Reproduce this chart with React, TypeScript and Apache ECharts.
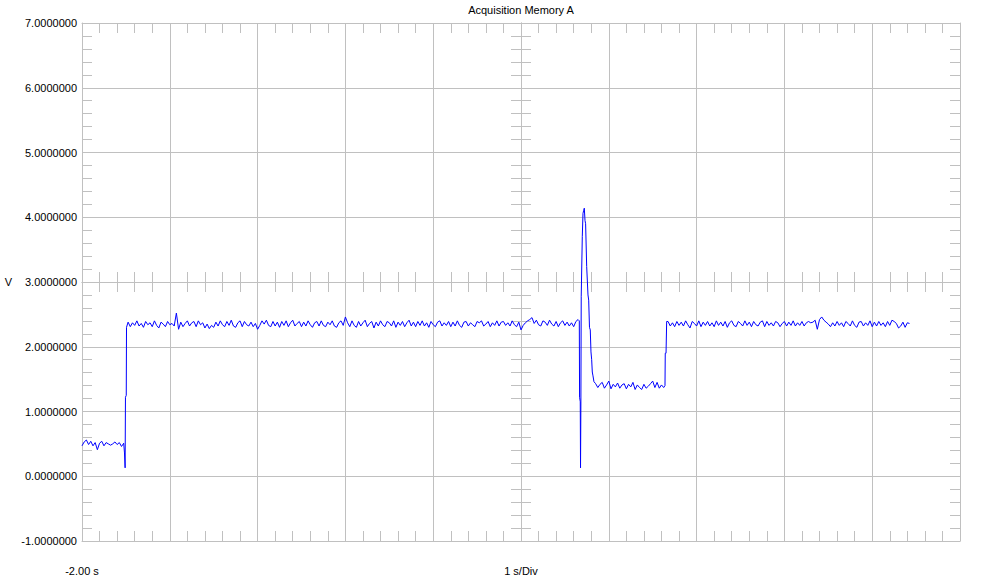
import React, { useEffect, useRef } from "react";
import * as echarts from "echarts";

// Time axis (seconds) and volt axis settings
const X_MIN = -2;
const X_MAX = 8;
const Y_MIN = -1;
const Y_MAX = 7;

const TITLE = "Acquisition Memory A";
const Y_NAME = "V";
const X_NAME = "1 s/Div";
const X_START_LABEL = "-2.00 s";

// Sample step of the noisy segments (s)
const STEP = 0.025;

// Segment A: low level before the first step
const segAStart = -2.0;
const segAValues = [0.47, 0.53, 0.56, 0.49, 0.54, 0.47, 0.52, 0.41, 0.51, 0.54, 0.47, 0.52, 0.5, 0.48, 0.5, 0.53, 0.49, 0.52, 0.46, 0.51];

// First step (glitch then rise)
const riseTimes = [-1.516, -1.509, -1.505, -1.496, -1.493];
const riseValues = [0.36, 0.13, 1.22, 1.25, 2.3];

// Segment B: high level
const segBStart = -1.475;
const segBValues = [
  2.38, 2.31, 2.37, 2.33, 2.4, 2.32, 2.36, 2.3, 2.39, 2.34,
  2.37, 2.31, 2.4, 2.33, 2.29, 2.38, 2.35, 2.31, 2.39, 2.34,
  2.36, 2.32, 2.52, 2.27, 2.38, 2.31, 2.36, 2.4, 2.32, 2.37,
  2.39, 2.31, 2.4, 2.34, 2.37, 2.29, 2.35, 2.28, 2.33, 2.3,
  2.38, 2.32, 2.4, 2.34, 2.31, 2.39, 2.33, 2.41, 2.32, 2.3,
  2.37, 2.4, 2.31, 2.39, 2.34, 2.32, 2.38, 2.31, 2.36, 2.27,
  2.33, 2.4, 2.35, 2.41, 2.33, 2.31, 2.39, 2.32, 2.38, 2.3,
  2.39, 2.33, 2.4, 2.31, 2.37, 2.41, 2.32, 2.36, 2.39, 2.31,
  2.38, 2.32, 2.4, 2.34, 2.3, 2.37, 2.39, 2.32, 2.4, 2.33,
  2.31, 2.38, 2.34, 2.4, 2.32, 2.3, 2.37, 2.4, 2.33, 2.46,
  2.37, 2.31, 2.4, 2.33, 2.3, 2.39, 2.32, 2.37, 2.41, 2.31,
  2.36, 2.39, 2.29, 2.38, 2.32, 2.4, 2.34, 2.31, 2.39, 2.37,
  2.32, 2.4, 2.3, 2.38, 2.33, 2.39, 2.31, 2.37, 2.41, 2.32,
  2.38, 2.31, 2.39, 2.33, 2.4, 2.32, 2.37, 2.3, 2.39, 2.34,
  2.31, 2.38, 2.4, 2.32, 2.37, 2.33, 2.39, 2.31, 2.38, 2.32,
  2.4, 2.33, 2.3, 2.38, 2.39, 2.32, 2.37, 2.34, 2.31, 2.39,
  2.37, 2.4, 2.32, 2.35, 2.39, 2.31, 2.37, 2.33, 2.4, 2.32,
  2.38, 2.39, 2.33, 2.37, 2.32, 2.4, 2.34, 2.31, 2.38, 2.26,
  2.33, 2.37, 2.4, 2.42, 2.45, 2.36, 2.41, 2.34, 2.32, 2.4,
  2.38, 2.33, 2.41, 2.35, 2.32, 2.39, 2.31, 2.37, 2.4, 2.33,
  2.38, 2.32, 2.37, 2.31, 2.39, 2.42,
];

// Transient spike
const spikeTimes = [3.664, 3.667, 3.675, 3.678, 3.682, 3.686, 3.698, 3.706, 3.713, 3.721, 3.729, 3.736, 3.748, 3.763, 3.771, 3.78, 3.789, 3.797, 3.805, 3.812, 3.82, 3.831];
const spikeValues = [2.4, 1.22, 1.15, 0.13, 1.1, 2.78, 3.7, 4.06, 4.1, 4.14, 3.95, 3.9, 3.24, 2.8, 2.72, 2.3, 2.26, 1.92, 1.8, 1.61, 1.55, 1.46];

// Segment C: middle level
const segCStart = 3.85;
const segCValues = [1.43, 1.37, 1.42, 1.45, 1.36, 1.41, 1.47, 1.35, 1.42, 1.38, 1.44, 1.36, 1.41, 1.43, 1.35, 1.42, 1.38, 1.45, 1.34, 1.41, 1.37, 1.34, 1.42, 1.36, 1.39, 1.43, 1.47, 1.37, 1.45, 1.36, 1.41, 1.37];

// Second rise
const rise2Times = [4.64, 4.643, 4.652, 4.659];
const rise2Values = [1.4, 1.9, 1.9, 2.39];

// Segment D: high level again
const segDStart = 4.675;
const segDValues = [
  2.39, 2.32, 2.37, 2.31, 2.39, 2.33, 2.38, 2.32, 2.4, 2.34,
  2.29, 2.39, 2.36, 2.32, 2.4, 2.31, 2.38, 2.33, 2.39, 2.32,
  2.37, 2.31, 2.4, 2.33, 2.38, 2.32, 2.39, 2.3, 2.37, 2.4,
  2.33, 2.31, 2.39, 2.36, 2.32, 2.4, 2.33, 2.38, 2.31, 2.39,
  2.34, 2.32, 2.38, 2.4, 2.31, 2.39, 2.33, 2.37, 2.32, 2.39,
  2.37, 2.31, 2.36, 2.39, 2.32, 2.38, 2.33, 2.4, 2.32, 2.37,
  2.33, 2.39, 2.32, 2.37, 2.39, 2.37, 2.38, 2.41, 2.27, 2.42,
  2.46, 2.41, 2.38, 2.35, 2.31, 2.37, 2.32, 2.39, 2.33, 2.37,
  2.31, 2.39, 2.36, 2.32, 2.4, 2.33, 2.3, 2.38, 2.39, 2.32,
  2.37, 2.33, 2.4, 2.31, 2.38, 2.32, 2.39, 2.33, 2.37, 2.31,
  2.39, 2.33, 2.41, 2.39, 2.36, 2.29, 2.32, 2.38, 2.3, 2.37, 2.36,
];

const sampled = (start: number, values: number[]) =>
  values.map((v, i) => [+(start + i * STEP).toFixed(4), v]);
const paired = (ts: number[], vs: number[]) => ts.map((t, i) => [t, vs[i]]);

const traceData = [
  ...sampled(segAStart, segAValues),
  ...paired(riseTimes, riseValues),
  ...sampled(segBStart, segBValues),
  ...paired(spikeTimes, spikeValues),
  ...sampled(segCStart, segCValues),
  ...paired(rise2Times, rise2Values),
  ...sampled(segDStart, segDValues),
];

const GRAY = "#c0c0c0";
const FONT = "'Liberation Sans', Arial, sans-serif";

export default function App() {
  const ref = useRef<HTMLDivElement>(null);
  useEffect(() => {
    if (!ref.current) return;
    const chart = echarts.init(ref.current, undefined, { renderer: "svg" });

    const line = { show: true, lineStyle: { color: GRAY, width: 1 } };
    const minor = { show: true, splitNumber: 5, length: 10, lineStyle: { color: GRAY, width: 1 } };
    const tick = (inside: boolean) => ({ show: true, inside, length: 10, lineStyle: { color: GRAY, width: 1 } });
    const baseX = { type: "value", min: X_MIN, max: X_MAX, interval: 1, gridIndex: 0 };
    const baseY = { type: "value", min: Y_MIN, max: Y_MAX, interval: 1, gridIndex: 0 };
    const off = { show: false };

    chart.setOption({
      animation: false,
      grid: { left: 82, top: 23, right: 26, bottom: 39, containLabel: false, outerBoundsMode: "none" },
      xAxis: [
        {
          ...baseX,
          position: "bottom",
          axisLine: { ...line, onZero: false },
          axisTick: tick(true),
          minorTick: minor,
          splitLine: line,
          axisLabel: {
            show: true,
            margin: 24,
            color: "#000",
            fontSize: 11,
            fontFamily: FONT,
            formatter: (v: number) => (v === X_MIN ? X_START_LABEL : ""),
          },
        },
        { ...baseX, position: "top", axisLine: { ...line, onZero: false }, axisTick: tick(true), minorTick: minor, splitLine: off, axisLabel: off },
        { ...baseX, position: "bottom", offset: -259, axisLine: { ...line, onZero: false }, axisTick: tick(true), minorTick: minor, splitLine: off, axisLabel: off },
        { ...baseX, position: "bottom", offset: -259, axisLine: { ...line, onZero: false }, axisTick: tick(false), minorTick: minor, splitLine: off, axisLabel: off },
      ],
      yAxis: [
        {
          ...baseY,
          position: "left",
          axisLine: { ...line, onZero: false },
          axisTick: tick(true),
          minorTick: minor,
          splitLine: line,
          axisLabel: {
            show: true,
            margin: 5,
            color: "#000",
            fontSize: 11,
            fontFamily: FONT,
            formatter: (v: number) => v.toFixed(7),
          },
        },
        { ...baseY, position: "right", axisLine: { ...line, onZero: false }, axisTick: tick(true), minorTick: minor, splitLine: off, axisLabel: off },
        { ...baseY, position: "left", offset: -439, axisLine: { ...line, onZero: false }, axisTick: tick(true), minorTick: minor, splitLine: off, axisLabel: off },
        { ...baseY, position: "left", offset: -439, axisLine: { ...line, onZero: false }, axisTick: tick(false), minorTick: minor, splitLine: off, axisLabel: off },
      ],
      graphic: [
        {
          type: "text",
          x: 521,
          y: 10,
          style: { text: TITLE, fill: "#000", font: `11px ${FONT}`, textAlign: "center", textVerticalAlign: "middle" },
        },
        {
          type: "text",
          x: 8.5,
          y: 282,
          style: { text: Y_NAME, fill: "#000", font: `11px ${FONT}`, textAlign: "center", textVerticalAlign: "middle" },
        },
        {
          type: "text",
          x: 521,
          y: 571,
          style: { text: X_NAME, fill: "#000", font: `11px ${FONT}`, textAlign: "center", textVerticalAlign: "middle" },
        },
      ],
      series: [
        {
          type: "line",
          xAxisIndex: 0,
          yAxisIndex: 0,
          data: traceData,
          showSymbol: false,
          symbol: "none",
          lineStyle: { color: "#0000ff", width: 1 },
          itemStyle: { color: "#0000ff" },
          z: 5,
        },
      ],
    });
    return () => chart.dispose();
  }, []);

  return <div ref={ref} style={{ position: "absolute", left: 0, top: 0, width: 986, height: 580, background: "#fff" }} />;
}
